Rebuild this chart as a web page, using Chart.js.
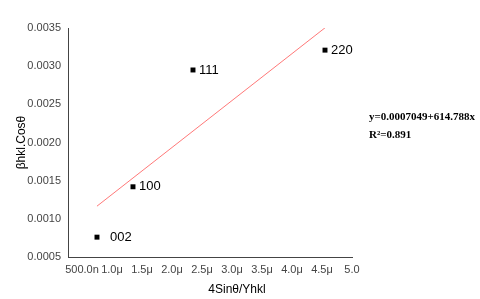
<!DOCTYPE html>
<html>
<head>
<meta charset="utf-8">
<script src="https://cdn.jsdelivr.net/npm/chart.js@4/dist/chart.umd.min.js"></script>
<style>
  html, body { margin: 0; padding: 0; background: #fff; }
  #wrap { width: 480px; height: 299px; }
</style>
</head>
<body>
<div id="wrap"><canvas id="chart" width="480" height="299"></canvas></div>
<script>
// data (x in micro units)
const planes = ['002', '100', '111', '220'];
const xVals = [0.75, 1.35, 2.35, 4.55];
const yVals = [0.00076, 0.00142, 0.00295, 0.00321];

// fitted line y = a + b*x (x in metres)
const fitA = 0.0007049;
const fitB = 614.788;
const fitX = [0.75, 4.55];
const fitY = fitX.map(x => fitA + fitB * x * 1e-6);

const xTicks = [0.5, 1.0, 1.5, 2.0, 2.5, 3.0, 3.5, 4.0, 4.5, 5.0];
const xTickLabels = ['500.0n', '1.0μ', '1.5μ', '2.0μ', '2.5μ', '3.0μ', '3.5μ', '4.0μ', '4.5μ', '5.0'];
const yTicks = [0.0005, 0.0010, 0.0015, 0.0020, 0.0025, 0.0030, 0.0035];

const eqText = 'y=0.0007049+614.788x';
const r2Text = 'R²=0.891';

const font = '"Liberation Sans", Arial, sans-serif';

// labels beside points, x title and fit equation
const extras = {
  id: 'extras',
  afterDatasetsDraw(chart) {
    const ctx = chart.ctx;
    const xs = chart.scales.x, ys = chart.scales.y;
    ctx.save();
    ctx.fillStyle = '#000';
    ctx.font = '13px ' + font;
    ctx.textBaseline = 'middle';
    ctx.textAlign = 'left';
    planes.forEach((p, i) => {
      const px = xs.getPixelForValue(xVals[i]);
      const py = ys.getPixelForValue(yVals[i]);
      const off = i === 0 ? 13 : 6;
      ctx.fillText(p, px + off, py);
    });

    ctx.font = '12px ' + font;
    ctx.textAlign = 'center';
    ctx.fillText('4Sinθ/Yhkl', 237, 290);

    ctx.font = 'bold 11px "Liberation Serif", "Times New Roman", serif';
    ctx.textAlign = 'left';
    ctx.fillText(eqText, 369, 117);
    ctx.fillText(r2Text, 369, 135);
    ctx.restore();
  }
};

new Chart(document.getElementById('chart'), {
  type: 'scatter',
  data: {
    datasets: [
      {
        label: 'fit',
        type: 'line',
        data: fitX.map((x, i) => ({ x: x, y: fitY[i] })),
        borderColor: '#ff5555',
        borderWidth: 0.8,
        pointRadius: 0,
        fill: false
      },
      {
        label: 'data',
        data: xVals.map((x, i) => ({ x: x, y: yVals[i] })),
        pointStyle: 'rect',
        pointRadius: 3.5,
        backgroundColor: '#000',
        borderColor: '#000',
        borderWidth: 0
      }
    ]
  },
  options: {
    responsive: false,
    animation: false,
    layout: { padding: { left: 0, right: 128, top: 28, bottom: 0 } },
    plugins: {
      legend: { display: false },
      tooltip: { enabled: false }
    },
    scales: {
      x: {
        type: 'linear',
        min: 0.267,
        max: 5.0,
        grid: { display: false, drawTicks: false },
        border: { display: true, color: '#444', width: 1 },
        afterBuildTicks: axis => { axis.ticks = xTicks.map(v => ({ value: v })); },
        afterFit: axis => { axis.height = 42; },
        ticks: {
          maxRotation: 0,
          autoSkip: false,
          padding: 6,
          color: '#444',
          font: { size: 11, family: font },
          callback: (v) => {
            const i = xTicks.findIndex(t => Math.abs(t - v) < 1e-9);
            return i >= 0 ? xTickLabels[i] : '';
          }
        }
      },
      y: {
        type: 'linear',
        min: 0.0005,
        max: 0.0035,
        grid: { display: false, drawTicks: false },
        border: { display: true, color: '#444', width: 1 },
        afterBuildTicks: axis => { axis.ticks = yTicks.map(v => ({ value: v })); },
        afterFit: axis => { axis.width = 68; },
        title: {
          display: true,
          text: 'βhkl.Cosθ',
          color: '#000',
          font: { size: 12, family: font },
          padding: { top: 14, bottom: 0 }
        },
        ticks: {
          padding: 7,
          color: '#444',
          font: { size: 11, family: font },
          callback: v => v.toFixed(4)
        }
      }
    }
  },
  plugins: [extras]
});
</script>
</body>
</html>
